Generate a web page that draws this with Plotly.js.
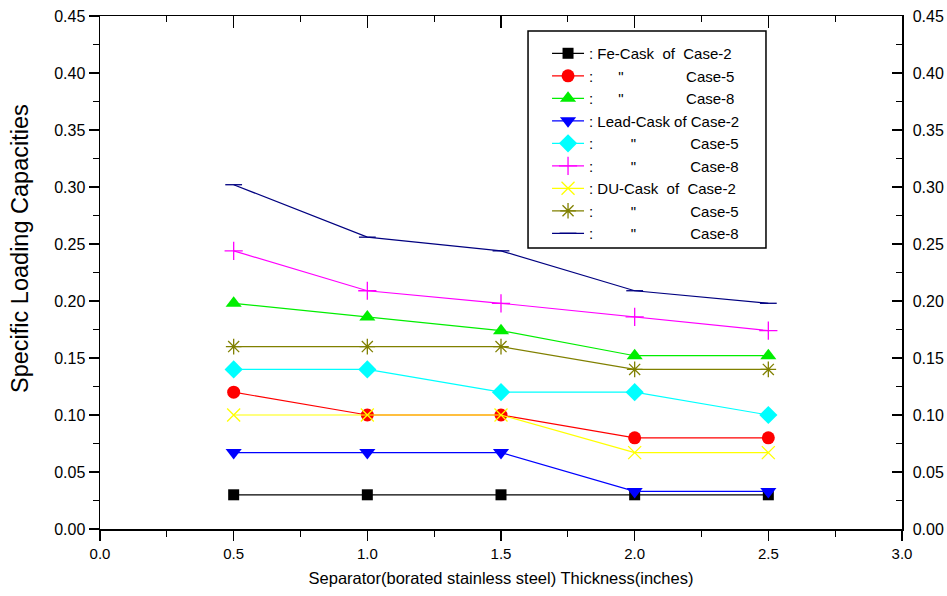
<!DOCTYPE html>
<html>
<head>
<meta charset="utf-8">
<script src="https://cdn.plot.ly/plotly-3.0.1.min.js"></script>
<style>html,body{margin:0;padding:0;background:#fff;}#chart{width:947px;height:596px;}</style>
</head>
<body>
<div id="chart"></div>
<script>
// Data
var thickness = [0.5, 1.0, 1.5, 2.0, 2.5];

var feCase2   = [0.030, 0.030, 0.030, 0.030, 0.030];
var feCase5   = [0.120, 0.100, 0.100, 0.080, 0.080];
var feCase8   = [0.198, 0.186, 0.174, 0.152, 0.152];
var leadCase2 = [0.067, 0.067, 0.067, 0.033, 0.033];
var leadCase5 = [0.140, 0.140, 0.120, 0.120, 0.100];
var leadCase8 = [0.244, 0.209, 0.198, 0.186, 0.174];
var duCase2   = [0.100, 0.100, 0.100, 0.067, 0.067];
var duCase5   = [0.160, 0.160, 0.160, 0.140, 0.140];
var duCase8   = [0.302, 0.256, 0.244, 0.209, 0.198];

var NB = '\u00A0';
function sp(n){ return NB.repeat(n); }
var seriesNames = [
  ': Fe-Cask' + sp(2) + 'of' + sp(2) + 'Case-2',
  ':' + sp(6) + '"' + sp(15) + 'Case-5',
  ':' + sp(6) + '"' + sp(15) + 'Case-8',
  ': Lead-Cask of Case-2',
  ':' + sp(9) + '"' + sp(13) + 'Case-5',
  ':' + sp(9) + '"' + sp(13) + 'Case-8',
  ': DU-Cask' + sp(2) + 'of' + sp(2) + 'Case-2',
  ':' + sp(9) + '"' + sp(13) + 'Case-5',
  ':' + sp(9) + '"' + sp(13) + 'Case-8'
];
var seriesValues = [feCase2, feCase5, feCase8, leadCase2, leadCase5, leadCase8, duCase2, duCase5, duCase8];
var colors = ['#000000', '#ff0000', '#00ee00', '#0000ff', '#00ffff', '#ff00ff', '#ffff00', '#808000', '#000080'];
var symbols = ['square', 'circle', 'triangle-up', 'triangle-down', 'diamond', 'cross-thin', 'x-thin', 'asterisk', 'line-ew'];
var sizes = [11, 13, 14, 14, 14, 13, 13, 13, 12];

var traces = seriesValues.map(function(vals, i){
  var thin = (symbols[i].indexOf('thin') >= 0 || symbols[i] === 'asterisk' || symbols[i] === 'line-ew');
  return {
    x: thickness, y: vals, name: seriesNames[i], type: 'scatter', mode: 'lines+markers',
    legendgroup: 'g' + i,
    line: {color: colors[i], width: 1.2},
    marker: {symbol: symbols[i], size: sizes[i], color: colors[i],
             line: {color: colors[i], width: thin ? 1.3 : 0}},
    xaxis: 'x', yaxis: 'y'
  };
});
// invisible companion trace so the mirrored axes are drawn
traces.push({x: thickness, y: feCase2, type: 'scatter', mode: 'markers', xaxis: 'x2', yaxis: 'y2',
  opacity: 0, showlegend: false, hoverinfo: 'skip', marker: {size: 1}});

var fontFam = 'Liberation Sans, Arial, sans-serif';
var layout = {
  width: 947, height: 596,
  margin: {l: 100, r: 45, t: 16, b: 67},
  paper_bgcolor: '#ffffff', plot_bgcolor: '#ffffff',
  font: {family: fontFam, color: '#000'},
  showlegend: true,
  legend: {x: 0.5574, y: 0.959, xanchor: 'left', yanchor: 'top',
    bgcolor: 'rgba(0,0,0,0)', borderwidth: 0,
    font: {family: fontFam, size: 15, color: '#000'},
    tracegroupgap: 0, itemwidth: 32},
  shapes: [{type: 'rect', xref: 'paper', yref: 'paper', x0: 0.5337, x1: 0.8304, y0: 0.5478, y1: 0.9708,
    fillcolor: '#ffffff', line: {color: '#000', width: 1.5}, layer: 'above'}],
  annotations: [{text: 'Specific Loading Capacities', xref: 'paper', yref: 'paper',
    x: -0.0998, y: 0.5478, xanchor: 'center', yanchor: 'middle', textangle: -90, showarrow: false,
    font: {family: fontFam, size: 23.5, color: '#000'}}],
  xaxis: {
    range: [0, 3], dtick: 0.5, tick0: 0, tickformat: '.1f',
    showgrid: false, zeroline: false, showline: true, linecolor: '#000', linewidth: 1.5,
    ticks: 'outside', ticklen: 10, tickwidth: 1.5, tickcolor: '#000',
    minor: {dtick: 0.25, ticks: 'outside', ticklen: 6, tickwidth: 1.2, tickcolor: '#000'},
    tickfont: {family: fontFam, size: 15},
    title: {text: 'Separator(borated stainless steel) Thickness(inches)', standoff: 12,
      font: {family: fontFam, size: 16.5}}
  },
  yaxis: {
    range: [0, 0.45], dtick: 0.05, tick0: 0, tickformat: '.2f',
    showgrid: false, zeroline: false, showline: true, linecolor: '#000', linewidth: 1.5,
    ticks: 'outside', ticklen: 10, tickwidth: 1.5, tickcolor: '#000',
    minor: {dtick: 0.025, ticks: 'outside', ticklen: 6, tickwidth: 1.2, tickcolor: '#000'},
    tickfont: {family: fontFam, size: 16}
  },
  xaxis2: {
    range: [0, 3], dtick: 0.5, tick0: 0, overlaying: 'x', side: 'top', anchor: 'y2',
    showgrid: false, zeroline: false, showline: true, linecolor: '#000', linewidth: 1.5,
    ticks: 'inside', ticklen: 12, tickwidth: 1.5, tickcolor: '#000',
    minor: {dtick: 0.25, ticks: 'inside', ticklen: 6, tickwidth: 1.2, tickcolor: '#000'},
    showticklabels: false
  },
  yaxis2: {
    range: [0, 0.45], dtick: 0.05, tick0: 0, tickformat: '.2f', overlaying: 'y', side: 'right', anchor: 'x2',
    showgrid: false, zeroline: false, showline: true, linecolor: '#000', linewidth: 1.5,
    ticks: 'inside', ticklen: 10, tickwidth: 1.5, tickcolor: '#000',
    minor: {dtick: 0.025, ticks: 'inside', ticklen: 6, tickwidth: 1.2, tickcolor: '#000'},
    tickfont: {family: fontFam, size: 16}, ticklabelstandoff: 6
  }
};

Plotly.newPlot('chart', traces, layout, {displayModeBar: false, staticPlot: true});
</script>
</body>
</html>
